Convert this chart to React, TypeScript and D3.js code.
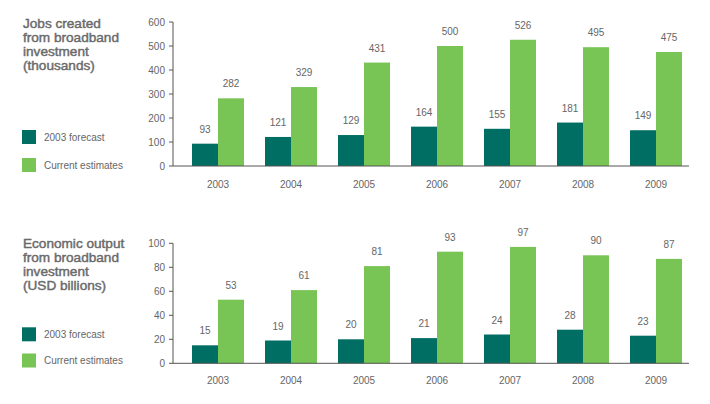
import React from "react";
import * as d3 from "d3";

const years = ["2003", "2004", "2005", "2006", "2007", "2008", "2009"];
const jobsForecast = [93, 121, 129, 164, 155, 181, 149];
const jobsCurrent = [282, 329, 431, 500, 526, 495, 475];
const outputForecast = [15, 19, 20, 21, 24, 28, 23];
const outputCurrent = [53, 61, 81, 93, 97, 90, 87];
const jobsTicks = [0, 100, 200, 300, 400, 500, 600];
const outputTicks = [0, 20, 40, 60, 80, 100];
const jobsTitle = ["Jobs created", "from broadband", "investment", "(thousands)"];
const outputTitle = ["Economic output", "from broadband", "investment", "(USD billions)"];
const seriesNames = ["2003 forecast", "Current estimates"];

const DARK = "#006e63";
const GREEN = "#78c455";
const TEXT = "#666";
const AXIS = "#555";
const FONT = "'Liberation Sans', Arial, Helvetica, sans-serif";

type PanelProps = {
  title: string[];
  forecast: number[];
  current: number[];
  ticks: number[];
  yTop: number;
  yBottom: number;
  titleY: number;
  legendY: number[];
  yearY: number;
};

function Panel({ title, forecast, current, ticks, yTop, yBottom, titleY, legendY, yearY }: PanelProps) {
  const x = d3
    .scaleBand<string>()
    .domain(years)
    .range([181.5, 692.5])
    .paddingInner(0.288)
    .paddingOuter(0.144);
  const sub = d3.scaleBand<string>().domain(["f", "c"]).range([0, x.bandwidth()]);
  const y = d3
    .scaleLinear()
    .domain([0, ticks[ticks.length - 1]])
    .range([yBottom, yTop]);
  const axisX = 173;
  return (
    <g fontFamily={FONT}>
      {title.map((t, i) => (
        <text
          key={t}
          x={23}
          y={titleY + i * 14}
          fontSize={13.6}
          fill="#6a6a6a"
          stroke="#6a6a6a"
          strokeWidth={0.45}
        >
          {t}
        </text>
      ))}
      {seriesNames.map((n, i) => (
        <g key={n}>
          <rect x={22} y={legendY[i]} width={14} height={14} fill={i === 0 ? DARK : GREEN} />
          <text x={44} y={legendY[i] + 7} dy="0.35em" fontSize={10} fill={TEXT}>
            {n}
          </text>
        </g>
      ))}
      {ticks.map((t) => (
        <g key={t}>
          <line x1={axisX - 4} x2={axisX} y1={y(t)} y2={y(t)} stroke={AXIS} strokeWidth={1} />
          <text x={165} y={y(t)} dy="0.35em" textAnchor="end" fontSize={10} fill={TEXT}>
            {t}
          </text>
        </g>
      ))}
      <line x1={axisX} x2={axisX} y1={yTop} y2={yBottom} stroke={AXIS} strokeWidth={1} />
      {years.map((yr, i) => {
        const x0 = x(yr)!;
        const vals = [forecast[i], current[i]];
        return (
          <g key={yr}>
            {vals.map((v, j) => {
              const bx = x0 + sub(j === 0 ? "f" : "c")!;
              const bw = sub.bandwidth();
              return (
                <g key={j}>
                  <rect x={bx} y={y(v)} width={bw} height={yBottom - y(v)} fill={j === 0 ? DARK : GREEN} />
                  <text x={bx + bw / 2} y={y(v) - 11} textAnchor="middle" fontSize={10} fill={TEXT}>
                    {v}
                  </text>
                </g>
              );
            })}
            <text x={x0 + x.bandwidth() / 2} y={yearY} textAnchor="middle" fontSize={10} fill={TEXT}>
              {yr}
            </text>
          </g>
        );
      })}
      <line x1={axisX} x2={689} y1={yBottom} y2={yBottom} stroke={AXIS} strokeWidth={1} />
    </g>
  );
}

export default function App() {
  return (
    <svg
      width={710}
      height={404}
      style={{ position: "absolute", left: 0, top: 0, background: "#fff" }}
    >
      <Panel
        title={jobsTitle}
        forecast={jobsForecast}
        current={jobsCurrent}
        ticks={jobsTicks}
        yTop={22}
        yBottom={166}
        titleY={27.8}
        legendY={[130, 158]}
        yearY={187.5}
      />
      <Panel
        title={outputTitle}
        forecast={outputForecast}
        current={outputCurrent}
        ticks={outputTicks}
        yTop={243.3}
        yBottom={363.3}
        titleY={247.6}
        legendY={[327.3, 353.5]}
        yearY={384}
      />
    </svg>
  );
}
